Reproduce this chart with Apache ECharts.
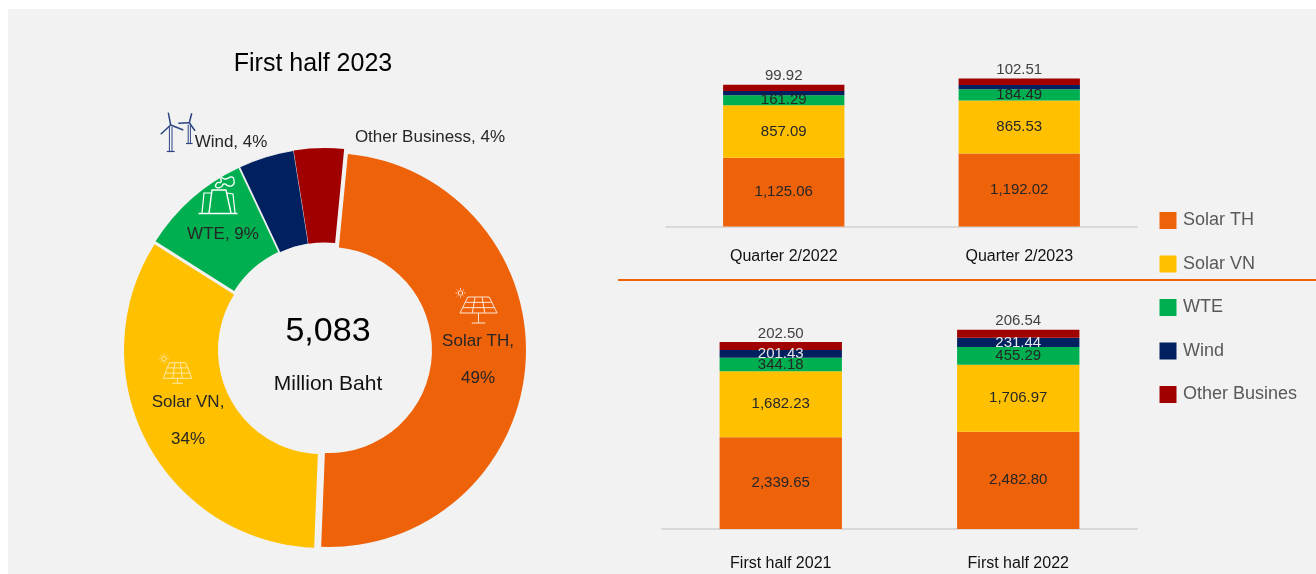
<!DOCTYPE html>
<html><head><meta charset="utf-8">
<style>html,body{margin:0;padding:0;background:#fff;overflow:hidden}
#bg{position:absolute;left:8px;top:9px;right:0;bottom:0;background:#f2f2f2}
#c{position:absolute;left:0;top:0;width:1316px;height:574px}</style>
<script src="https://cdn.jsdelivr.net/npm/echarts@6/dist/echarts.min.js"></script></head>
<body><div id="bg"></div><div id="c"></div>
<script>
const seriesNames = ['Solar TH','Solar VN','WTE','Wind','Other Business'];
const seriesColors = ['#ee6209','#ffc000','#00b050','#002060','#a00000'];
const donutValues = [2496,1694,459,229,205];
const donutLabels = ['{a|Solar TH,}\n{a|49%}','{a|Solar VN,}\n{a|34%}','{a|WTE, 9%}','{a|Wind, 4%}','{a|Other Business, 4%}'];
const quarterCats = ['Quarter 2/2022','Quarter 2/2023'];
const quarterTH = [1125.06,1192.02];
const quarterVN = [857.09,865.53];
const quarterWTE = [161.29,184.49];
const quarterWind = [72,72];
const quarterOther = [99.92,102.51];
const halfCats = ['First half 2021','First half 2022'];
const halfTH = [2339.65,2482.80];
const halfVN = [1682.23,1706.97];
const halfWTE = [344.18,455.29];
const halfWind = [201.43,231.44];
const halfOther = [202.50,206.54];

const FONT = '"Liberation Sans",Arial,sans-serif';
const fmt = p => Number(p.value).toLocaleString('en-US',{minimumFractionDigits:2,maximumFractionDigits:2});

function barSeries(name,i,data,axis,opts){
  return Object.assign({
    type:'bar',name,data,stack:'s'+axis,xAxisIndex:axis,yAxisIndex:axis,barWidth:'51.5%',
    itemStyle:{color:seriesColors[i]},
    label:{show:true,position:'inside',formatter:fmt,color:'#262626',fontFamily:FONT,fontSize:15}
  },opts||{});
}
function topLabel(){return {label:{show:true,position:'top',distance:1,formatter:fmt,color:'#404040',fontFamily:FONT,fontSize:15}};}

// exploded donut: one pie per slice, each with its own centre and radii
const sliceGeom = [
  {center:[329,350],radius:[103,197],spot:[478,360]},
  {center:[322,350],radius:[104,198],spot:[188,421]},
  {center:[323,347],radius:[105,198],spot:[223,234]},
  {center:[325,348],radius:[105.5,200],spot:[231,142]},
  {center:[325,348],radius:[105.5,200],spot:[430,137]}
];
function slice(k){
  const g=sliceGeom[k];
  return {type:'pie',name:'First half 2023 '+seriesNames[k],center:g.center,radius:g.radius,startAngle:84.5,clockwise:true,silent:true,
    data:seriesNames.map((n,i)=>i===k
      ?{name:n,value:donutValues[i],itemStyle:{color:seriesColors[i],borderColor:'#f2f2f2',borderWidth:k===3?0.8:0},
        label:{show:true,position:'inside',formatter:donutLabels[i]}}
      :{name:n,value:donutValues[i],itemStyle:{color:'transparent'},label:{show:false}}),
    label:{rich:{a:{fontFamily:FONT,fontSize:17,color:'#262626',lineHeight:37,align:'center'}}},
    labelLine:{show:false},
    labelLayout:()=>({x:g.spot[0],y:g.spot[1],align:'center',verticalAlign:'middle'})
  };
}

function line(pts,color,w){return {type:'polyline',shape:{points:pts},style:{fill:null,stroke:color,lineWidth:w},silent:true,z:20};}
function solar(x,y,s,h,stem,color){
  const g=[];
  g.push(line([[x+6*s,y],[x+22.5*s,y],[x+28.5*s,y+h],[x,y+h],[x+6*s,y]],color,1));
  g.push(line([[x+4.2*s,y+h/3],[x+24.4*s,y+h/3]],color,1));
  g.push(line([[x+2.1*s,y+2*h/3],[x+26.4*s,y+2*h/3]],color,1));
  [[11.6,9.5],[17,19]].forEach(a=>g.push(line([[x+a[0]*s,y],[x+a[1]*s,y+h]],color,1)));
  g.push(line([[x+14.2*s,y+h],[x+14.2*s,y+h+stem]],color,1));
  g.push(line([[x+9*s,y+h+stem],[x+19.5*s,y+h+stem]],color,1));
  const sx=x+0.5, sy=y-4;
  g.push({type:'circle',shape:{cx:sx,cy:sy,r:2.2},style:{fill:null,stroke:color,lineWidth:1},silent:true,z:20});
  [[0,-5,0,-3.2],[0,5,0,3.2],[-5,0,-3.2,0],[5,0,3.2,0],[-3.5,-3.5,-2.3,-2.3],[3.5,3.5,2.3,2.3],[-3.5,3.5,-2.3,2.3],[3.5,-3.5,2.3,-2.3]].forEach(a=>
    g.push(line([[sx+a[0],sy+a[1]],[sx+a[2],sy+a[3]]],color,0.8)));
  return g;
}
const navyI='#2a4582';
function turbine(hub,base,tips,hw){
  const g=[];
  g.push(line([[hub[0]-hw,hub[1]+2],[hub[0]-hw,base]],navyI,1));
  g.push(line([[hub[0]+hw,hub[1]+2],[hub[0]+hw,base]],navyI,1));
  g.push(line([[hub[0]-hw*3,base],[hub[0]+hw*3,base]],navyI,1.2));
  tips.forEach(t=>g.push(line([hub,t],navyI,1.5)));
  return g;
}
const W='#ffffff';
const factory=[
  line([[198.5,213.5],[237.5,213.5]],W,1.4),
  line([[209,213],[212,190],[226,190],[231,213]],W,1.4),
  line([[212,193],[204,193],[202,213]],W,1.2),
  line([[227,193],[233,194],[235,213]],W,1.2),
  {type:'polygon',shape:{smooth:0.7,points:[[216,187],[217,183],[221,182],[221,178],[226,179],[232,177],[234,181],[233,185],[229,186],[224,184],[221,187]]},style:{fill:null,stroke:W,lineWidth:1.3},silent:true,z:20}
];
const graphics=[
  {type:'line',shape:{x1:618,y1:280,x2:1316,y2:280},style:{stroke:'#ee6209',lineWidth:2},silent:true},
  {type:'text',style:{x:328,y:332,text:'5,083',fill:'#000',font:'34px '+FONT,textAlign:'center',textVerticalAlign:'middle'},silent:true},
  {type:'text',style:{x:328,y:384,text:'Million Baht',fill:'#111',font:'21px '+FONT,textAlign:'center',textVerticalAlign:'middle'},silent:true}
].concat(
  solar(460,297,1.3,16,10,'#ffe6d6'),
  solar(163.3,362.7,1,15.6,5,'#ffe9a8'),
  factory,
  turbine([170.7,125],151.5,[[168.3,112.7],[160.7,134.3],[183.3,130]],1.3),
  turbine([189.3,122.7],143.5,[[191.7,113.3],[178.3,123.3],[195,130.7]],1.1)
);

const option={
  animation:false,
  textStyle:{fontFamily:FONT},
  title:{text:'First half 2023',left:308,top:47,textAlign:'center',textStyle:{fontFamily:FONT,fontSize:25,fontWeight:'normal',color:'#000'}},
  legend:{orient:'vertical',left:1154.5,top:206.5,itemWidth:17,itemHeight:17,itemGap:25.5,icon:'rect',data:seriesNames,
    selectedMode:false,textStyle:{fontFamily:FONT,fontSize:18,color:'#595959',width:117,overflow:'truncate',ellipsis:'',padding:[0,0,5,1.5]}},
  grid:[{left:666,width:471,top:73.5,height:153},{left:662,width:475,top:313.4,height:215.6}],
  xAxis:[0,1].map(i=>({type:'category',gridIndex:i,data:i?halfCats:quarterCats,
    axisLine:{lineStyle:{color:'#d9d9d9',width:2}},axisTick:{show:false},
    axisLabel:{color:'#111',fontFamily:FONT,fontSize:16,margin:i?27:22}})),
  yAxis:[{gridIndex:0,type:'value',min:0,max:2500,show:false,splitLine:{show:false}},{gridIndex:1,type:'value',min:0,max:5500,show:false,splitLine:{show:false}}],
  graphic:{elements:graphics},
  series:[
    barSeries(seriesNames[0],0,quarterTH,0),
    barSeries(seriesNames[1],1,quarterVN,0),
    barSeries(seriesNames[2],2,quarterWTE,0),
    barSeries(seriesNames[3],3,quarterWind,0,{label:{show:false}}),
    barSeries(seriesNames[4],4,quarterOther,0,topLabel()),
    barSeries(seriesNames[0],0,halfTH,1),
    barSeries(seriesNames[1],1,halfVN,1),
    barSeries(seriesNames[2],2,halfWTE,1),
    barSeries(seriesNames[3],3,halfWind,1,{label:{show:true,position:'inside',formatter:fmt,color:'#e6e6e6',fontFamily:FONT,fontSize:15}}),
    barSeries(seriesNames[4],4,halfOther,1,topLabel()),
    slice(0),slice(1),slice(2),slice(3),slice(4)
  ]
};
echarts.init(document.getElementById('c'),null,{renderer:'canvas'}).setOption(option);
</script></body></html>
